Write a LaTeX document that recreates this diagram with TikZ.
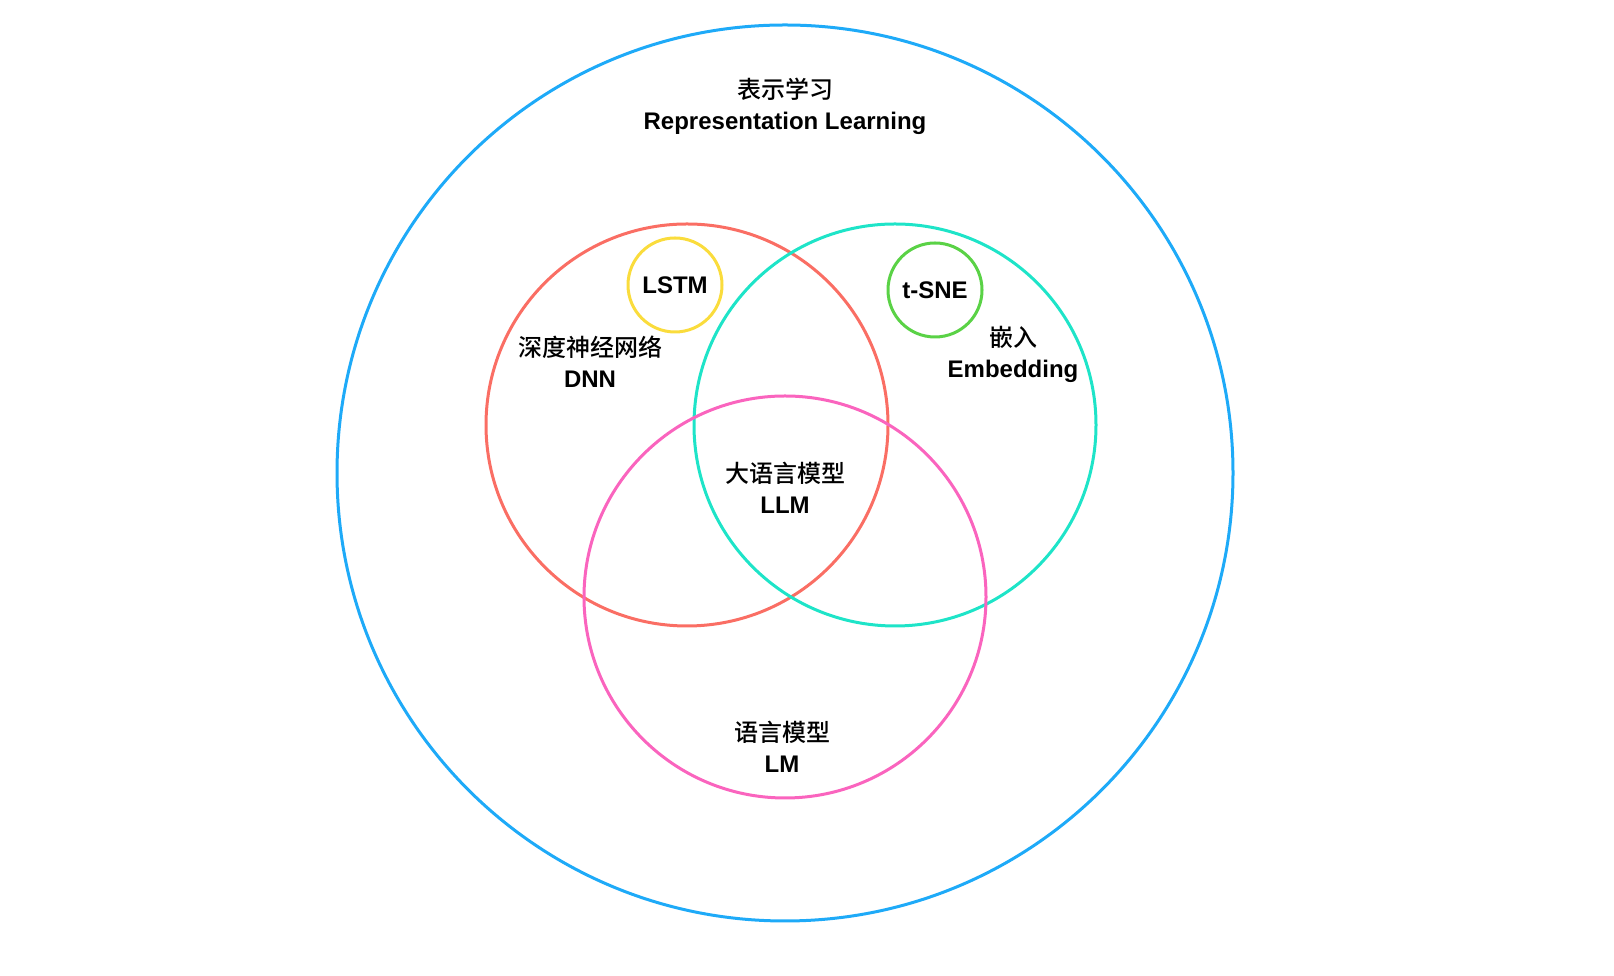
\documentclass[tikz,border=0pt]{standalone}
\usepackage{fontspec}
\setmainfont{Liberation Sans}
\newfontfamily\cjk[BoldFont={Noto Sans CJK SC Medium}]{Noto Sans CJK SC}
\usepackage{tikz}

\definecolor{repblue}{RGB}{30,170,248}
\definecolor{dnnred}{RGB}{250,110,100}
\definecolor{embcyan}{RGB}{30,228,200}
\definecolor{lmpink}{RGB}{250,100,190}
\definecolor{lstmyellow}{RGB}{250,220,60}
\definecolor{tsnegreen}{RGB}{90,210,70}

\tikzset{
  set/.style={circle, draw=#1, line width=3pt, inner sep=0pt},
  lbl/.style={align=center, font=\fontsize{24}{31}\selectfont\bfseries},
}

\begin{document}
\begin{tikzpicture}[x=1pt, y=1pt]
    \useasboundingbox (0,0) rectangle (1614,976);
    % sets
    \node[set=repblue, minimum size=896pt] (rep) at (785,503) {};
    \node[set=dnnred, minimum size=402pt] (dnn) at (687,551) {};
    \node[set=embcyan, minimum size=402pt] (emb) at (895,551) {};
    \node[set=lmpink, minimum size=402pt] (lm) at (785,379) {};
    \node[set=lstmyellow, minimum size=94pt, lbl] (lstm) at (675,691) {LSTM};
    \node[set=tsnegreen, minimum size=94pt, lbl] (tsne) at (935,686) {t-SNE};
    % labels
    \node[lbl] (replbl) at (785,870) {{\cjk 表示学习}\\Representation Learning};
    \node[lbl] (dnnlbl) at (590,614) {{\cjk 深度神经网络}\\DNN};
    \node[lbl] (emblbl) at (1013,622) {{\cjk 嵌入}\\Embedding};
    \node[lbl] (llmlbl) at (785,488) {{\cjk 大语言模型}\\LLM};
    \node[lbl] (lmlbl) at (782,229) {{\cjk 语言模型}\\LM};
\end{tikzpicture}
\end{document}
